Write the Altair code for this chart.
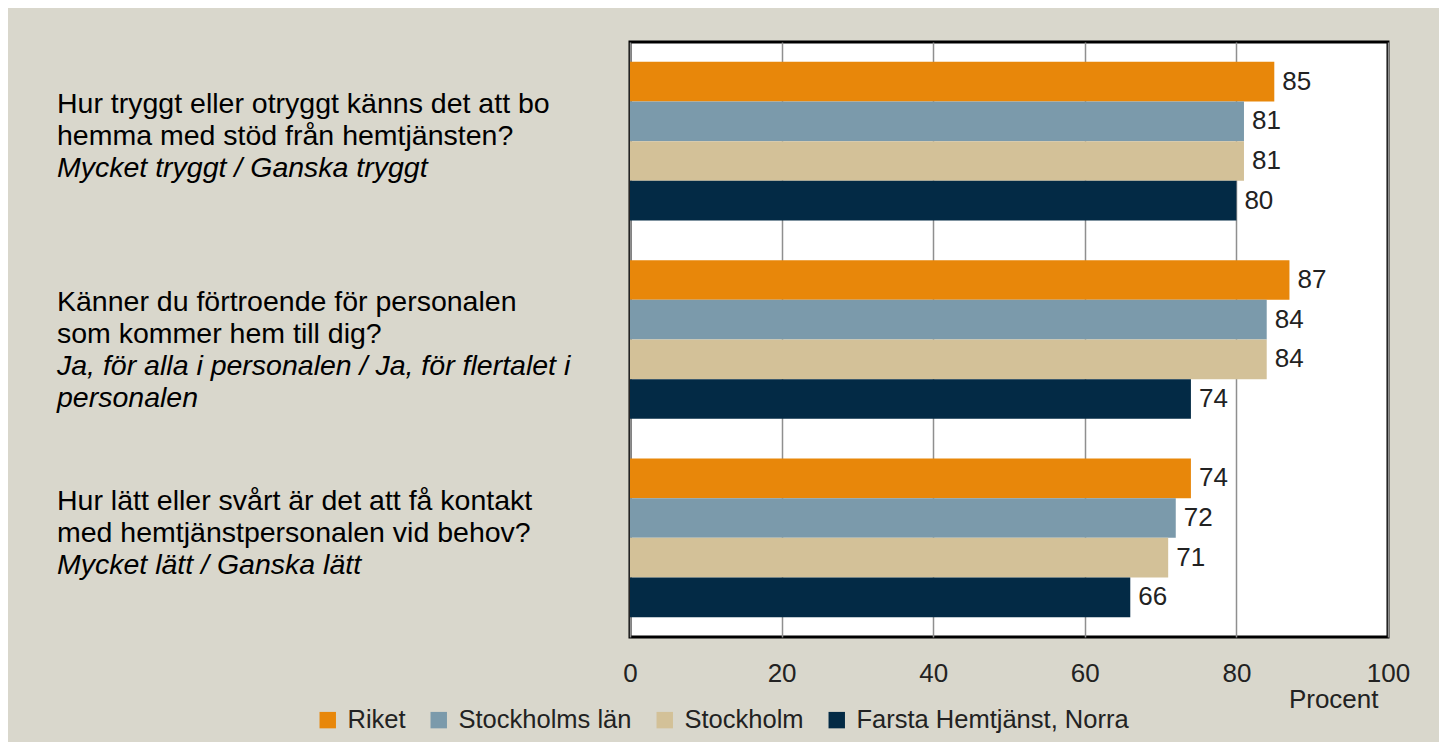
import altair as alt
import pandas as pd

# ---- data ----
question_ids = ["Q1", "Q2", "Q3"]
series = ["Riket", "Stockholms län", "Stockholm", "Farsta Hemtjänst, Norra"]
q1_values = [85, 81, 81, 80]
q2_values = [87, 84, 84, 74]
q3_values = [74, 72, 71, 66]
colors = ["#e8870a", "#7b9aab", "#d3c198", "#032a45"]

question_lines = [
    ["Hur tryggt eller otryggt känns det att bo", "hemma med stöd från hemtjänsten?"],
    ["Känner du förtroende för personalen", "som kommer hem till dig?"],
    ["Hur lätt eller svårt är det att få kontakt", "med hemtjänstpersonalen vid behov?"],
]
answer_lines = [
    ["Mycket tryggt / Ganska tryggt"],
    ["Ja, för alla i personalen / Ja, för flertalet i", "personalen"],
    ["Mycket lätt / Ganska lätt"],
]
x_ticks = [0, 20, 40, 60, 80, 100]

rows = []
for qid, vals in zip(question_ids, [q1_values, q2_values, q3_values]):
    for s, v in zip(series, vals):
        rows.append({"q": qid, "series": s, "value": v})
df = pd.DataFrame(rows)

tdf = pd.DataFrame({"q": question_ids, "question": question_lines, "answer": answer_lines})

FONT = "Liberation Sans"
QFS = 28.5

y_scale = alt.Scale(domain=question_ids, paddingInner=0.2, paddingOuter=0.1)
y_enc = alt.Y("q:N", scale=y_scale, axis=None)
yoff = alt.YOffset("series:N", scale=alt.Scale(domain=series, paddingInner=0, paddingOuter=0))

bars = alt.Chart(df).mark_bar().encode(
    x=alt.X(
        "value:Q",
        scale=alt.Scale(domain=[0, 100], nice=False),
        axis=alt.Axis(
            values=x_ticks, grid=True, gridColor="#8f8f8f", gridWidth=1.5,
            domain=False, ticks=False, tickSize=0, labelPadding=23,
            labelFlush=False, labelOverlap=False,
            labelFont=FONT, labelFontSize=26, labelColor="#222222",
            title="Procent", titleX=748, titleY=62, titleAlign="right",
            titleBaseline="middle", titleFont=FONT, titleFontSize=26,
            titleFontWeight="normal", titleColor="#222222",
        ),
    ),
    y=y_enc,
    yOffset=yoff,
    color=alt.Color(
        "series:N",
        scale=alt.Scale(domain=series, range=colors),
        legend=alt.Legend(
            title=None, orient="none", legendX=-315, legendY=665,
            direction="horizontal", columns=4, symbolType="square",
            symbolSize=270, symbolStrokeWidth=0, labelFont=FONT,
            labelFontSize=25.5, labelColor="#222222", labelOffset=7,
            labelLimit=0, columnPadding=20, padding=0,
        ),
    ),
)

labels = alt.Chart(df).mark_text(
    align="left", baseline="middle", dx=8, font=FONT, fontSize=26, color="#222222"
).encode(
    x=alt.X("value:Q"),
    y=y_enc,
    yOffset=yoff,
    text=alt.Text("value:Q"),
)

qtext = alt.Chart(tdf).mark_text(
    align="left", baseline="alphabetic", dy=51, lineHeight=32,
    font=FONT, fontSize=QFS, color="#000000",
).encode(
    x=alt.value(-573),
    y=alt.Y("q:N", bandPosition=0, scale=y_scale, axis=None),
    text=alt.Text("question"),
)

atext = alt.Chart(tdf).mark_text(
    align="left", baseline="alphabetic", dy=51 + 64, lineHeight=32,
    font=FONT, fontSize=QFS, fontStyle="italic", color="#000000",
).encode(
    x=alt.value(-573),
    y=alt.Y("q:N", bandPosition=0, scale=y_scale, axis=None),
    text=alt.Text("answer"),
)

chart = alt.layer(bars, labels, qtext, atext).properties(
    width=758,
    height=595,
    autosize=alt.AutoSizeParams(type="none"),
    padding={"left": 622, "top": 34, "right": 51, "bottom": 105},
    background="#d9d7cc",
).configure_view(
    stroke="#000000", strokeWidth=3, fill="#ffffff"
)

chart.save("out.html", embed_options={"renderer": "svg", "actions": False})
